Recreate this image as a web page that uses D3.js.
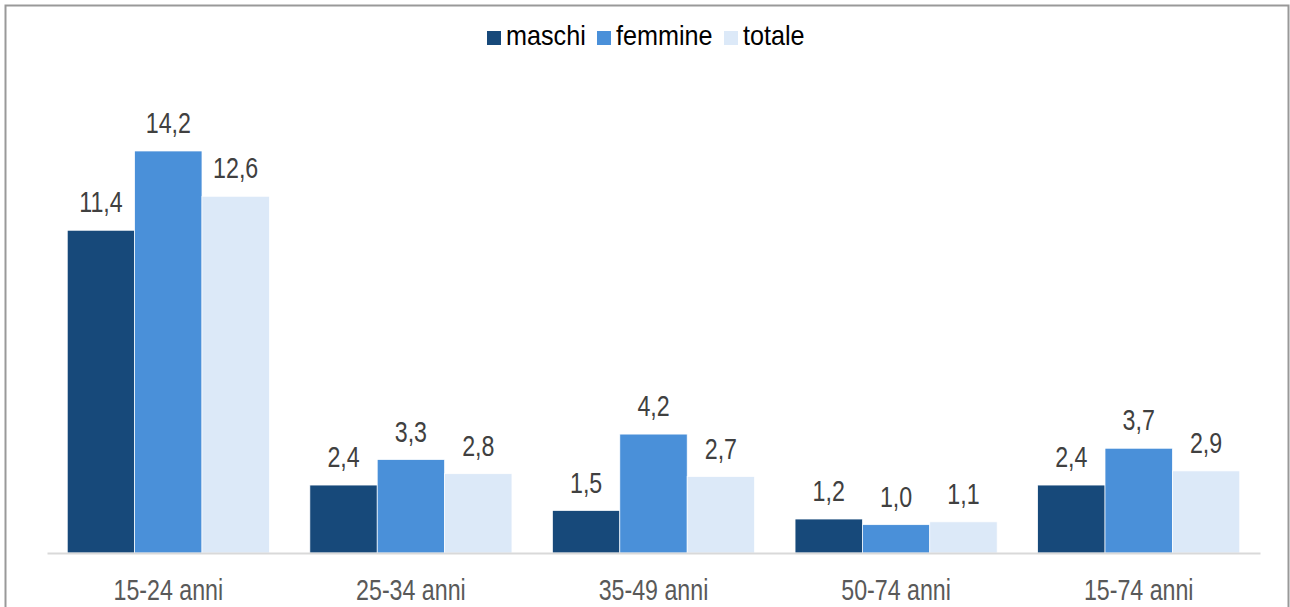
<!doctype html>
<html lang="it">
  <head>
    <meta charset="UTF-8" />
    <title>Tasso per classe di età</title>
    <script src="https://d3js.org/d3.v7.min.js"></script>
    <style>
      html,
      body {
        margin: 0;
        padding: 0;
        background: #fff;
        overflow: hidden;
      }
      svg {
        display: block;
        font-family: "Liberation Sans Narrow", "Arial Narrow", "Liberation Sans", Arial, sans-serif;
      }
      .val {
        font-size: 29px;
        fill: #404040;
        text-anchor: middle;
      }
      .cat {
        font-size: 29px;
        fill: #595959;
        text-anchor: middle;
      }
      .leg {
        font-size: 28px;
        fill: #000;
      }
    </style>
  </head>
  <body>
    <svg id="chart"></svg>

    <script>
      const categories = ["15-24 anni", "25-34 anni", "35-49 anni", "50-74 anni", "15-74 anni"];
      const seriesNames = ["maschi", "femmine", "totale"];
      const maschi = [11.4, 2.4, 1.5, 1.2, 2.4];
      const femmine = [14.2, 3.3, 4.2, 1.0, 3.7];
      const totale = [12.6, 2.8, 2.7, 1.1, 2.9];
      const colors = ["#17497a", "#4a90d9", "#dce9f8"];

      const width = 1290;
      const height = 607;
      const margin = { top: 60, right: 30, bottom: 54, left: 47 };
      const narrow = 0.8; // no narrow font installed, so squeeze the text

      const svg = d3.select("#chart").attr("width", width).attr("height", height);

      // outer frame
      svg.append("rect")
        .attr("x", 5.5)
        .attr("y", 5.5)
        .attr("width", 1283)
        .attr("height", 620)
        .attr("fill", "none")
        .attr("stroke", "#999")
        .attr("stroke-width", 2);

      const rows = categories.map((c, i) => ({
        cat: c,
        values: [maschi[i], femmine[i], totale[i]]
      }));

      const x0 = d3.scaleBand()
        .domain(categories)
        .range([margin.left, width - margin.right])
        .paddingInner(0.167)
        .paddingOuter(0.0835);

      const x1 = d3.scaleBand()
        .domain(seriesNames)
        .range([0, x0.bandwidth()]);

      const y = d3.scaleLinear()
        .domain([0, 14.2])
        .range([height - margin.bottom, 151]);

      const fmt = (v) => d3.format(".1f")(v).replace(".", ",");

      const groups = svg.append("g")
        .selectAll("g")
        .data(rows)
        .join("g")
        .attr("transform", (d) => `translate(${x0(d.cat)},0)`);

      groups.selectAll("rect")
        .data((d) => d.values.map((v, i) => ({ key: seriesNames[i], v: v, i: i })))
        .join("rect")
        .attr("x", (d) => x1(d.key))
        .attr("y", (d) => y(d.v))
        .attr("width", x1.bandwidth())
        .attr("height", (d) => y(0) - y(d.v))
        .attr("fill", (d) => colors[d.i])
        .attr("stroke", "#fff")
        .attr("stroke-width", 0.7);

      groups.selectAll("text")
        .data((d) => d.values.map((v, i) => ({ key: seriesNames[i], v: v })))
        .join("text")
        .attr("class", "val")
        .attr("transform", (d) => `translate(${x1(d.key) + x1.bandwidth() / 2},${y(d.v) - 18}) scale(${narrow},1)`)
        .text((d) => fmt(d.v));

      // baseline axis
      const xAxis = svg.append("g")
        .attr("transform", `translate(0,${y(0)})`)
        .call(d3.axisBottom(x0).tickSize(0).tickPadding(0));
      xAxis.select(".domain").attr("stroke", "#d9d9d9").attr("stroke-width", 2);
      xAxis.selectAll("text")
        .attr("class", "cat")
        .attr("dy", 0)
        .attr("y", 0)
        .attr("transform", `translate(0,47) scale(${narrow},1)`)
        .attr("font-family", null)
        .attr("font-size", null)
        .attr("fill", null);

      // legend
      const legX = [487, 597, 724];
      const legend = svg.append("g");
      seriesNames.forEach((name, i) => {
        legend.append("rect")
          .attr("x", legX[i])
          .attr("y", 31)
          .attr("width", 14)
          .attr("height", 14)
          .attr("fill", colors[i]);
        legend.append("text")
          .attr("class", "leg")
          .attr("transform", `translate(${legX[i] + 19},45) scale(0.9,1)`)
          .text(name);
      });
    </script>
  </body>
</html>
